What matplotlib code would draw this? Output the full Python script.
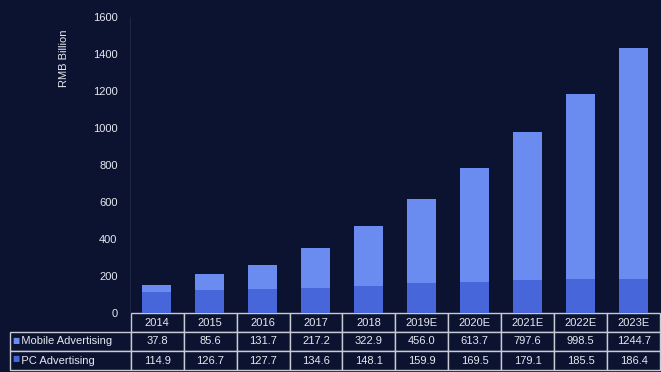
import numpy as np
import matplotlib.pyplot as plt

plt.rcParams['font.family'] = ['Liberation Sans', 'DejaVu Sans']

years = ['2014', '2015', '2016', '2017', '2018', '2019E', '2020E', '2021E', '2022E', '2023E']
mobile = [37.8, 85.6, 131.7, 217.2, 322.9, 456.0, 613.7, 797.6, 998.5, 1244.7]
pc = [114.9, 126.7, 127.7, 134.6, 148.1, 159.9, 169.5, 179.1, 185.5, 186.4]
series_names = ['Mobile Advertising', 'PC Advertising']

bg = '#0b1330'
c_mobile = '#6a8cf0'
c_pc = '#4766d9'
txt = '#e6e8f0'

fig = plt.figure(figsize=(6.61, 3.72), dpi=100, facecolor=bg)
W, H = 661.0, 372.0
ax_l, ax_w = 130 / W, 530 / W
ax_b, ax_t = (H - 313) / H, (H - 17) / H
ax = fig.add_axes([ax_l, ax_b, ax_w, ax_t - ax_b], facecolor=bg)

x = np.arange(len(years))
ax.bar(x, pc, 0.53, color=c_pc, zorder=2)
ax.bar(x, mobile, 0.53, bottom=pc, color=c_mobile, zorder=2)

ax.set_xlim(-0.5, len(years) - 0.5)
ax.set_ylim(0, 1600)
ax.set_yticks(np.arange(0, 1601, 200))
ax.tick_params(axis='y', colors=txt, labelsize=8, length=0, pad=9)
ax.set_xticks([])
for s in ['top', 'right', 'bottom']:
    ax.spines[s].set_visible(False)
ax.spines['left'].set_color('#1e2540')

fig.text(64 / W, 1 - 58 / H, 'RMB Billion', rotation=90, color=txt,
         fontsize=8, ha='center', va='center')

# data table under the bars
cells = [[series_names[0]] + ['%.1f' % v for v in mobile],
         [series_names[1]] + ['%.1f' % v for v in pc]]
tab_l = (10 - 130) / 530.0
tab_h = 57 / 296.0
tbl = ax.table(cellText=cells, colLabels=[''] + years,
               colWidths=[121 / 530.0] + [53.0 / 530.0] * len(years),
               cellLoc='center', bbox=[tab_l, -tab_h, 1 - tab_l, tab_h])
tbl.auto_set_font_size(False)
tbl.set_fontsize(8)
for (r, c), cell in tbl.get_celld().items():
    cell.set_facecolor(bg)
    cell.set_edgecolor('#c8cad4')
    cell.set_linewidth(1.0)
    cell.get_text().set_color(txt)
    if r == 0 and c == 0:
        cell.set_visible(False)
    if c == 0 and r > 0:
        cell.get_text().set_ha('left')
        cell.get_text().set_text('   ' + cell.get_text().get_text())
        cell.PAD = 0.02

# coloured legend squares in the row labels
for i, col in enumerate([c_mobile, c_pc]):
    yy = 1 - (340 + i * 19) / H
    fig.text(16 / W, yy, '■', color=col, fontsize=5.5, family='DejaVu Sans',
             ha='center', va='center')

fig.savefig('out.png', dpi=100, facecolor=bg)
